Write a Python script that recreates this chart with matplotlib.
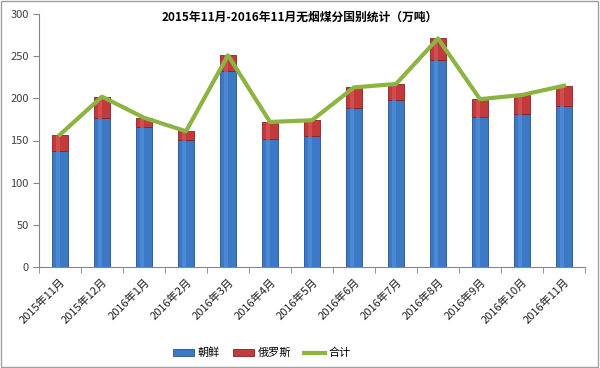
import matplotlib
matplotlib.use("Agg")
import matplotlib.pyplot as plt
import numpy as np
from matplotlib.patches import Rectangle

plt.rcParams['font.family'] = ['Noto Sans CJK SC', 'DejaVu Sans']

categories = ["2015年11月", "2015年12月", "2016年1月", "2016年2月", "2016年3月", "2016年4月",
              "2016年5月", "2016年6月", "2016年7月", "2016年8月", "2016年9月", "2016年10月", "2016年11月"]
korea = [138, 177, 166, 151, 233, 152, 155, 189, 198, 246, 178, 181, 191]
russia = [19, 25, 11, 10, 18, 20, 19, 24, 19, 25, 21, 23, 24]
total = [k + r for k, r in zip(korea, russia)]

fig = plt.figure(figsize=(6, 3.68), dpi=100)
ax = fig.add_axes([39/600, 1-267/368, 546/600, 253/368])

x = np.arange(len(categories))
w = 0.4
ax.bar(x, korea, w, color='#3b78c6', edgecolor='#24508f', linewidth=0.6, label='朝鲜', zorder=2)
ax.bar(x, russia, w, bottom=korea, color='#c23a3a', edgecolor='#8b2020', linewidth=0.6, label='俄罗斯', zorder=2)
# highlight stripes to imitate gradient
ax.bar(x - w*0.12, korea, w*0.25, color='#5a96dc', linewidth=0, zorder=2.5, alpha=0.6)
ax.bar(x - w*0.12, russia, w*0.25, bottom=korea, color='#de5a5a', linewidth=0, zorder=2.5, alpha=0.6)
ax.plot(x, total, color='#8db443', linewidth=3, label='合计', zorder=3)

ax.set_xlim(-0.5, len(categories) - 0.5)
ax.set_ylim(0, 300)
ax.set_yticks(range(0, 301, 50))
ax.tick_params(axis='y', labelsize=8, colors='#404040', length=4, direction='out')
ax.set_xticks(x)
ax.set_xticklabels(categories, rotation=45, ha='right', rotation_mode='anchor', fontsize=8, color='#202020')
ax.tick_params(axis='x', length=0, pad=7)
ax.set_xticks(np.arange(-0.5, len(categories), 1), minor=True)
ax.tick_params(axis='x', which='minor', length=4, direction='out', color='#868686')
ax.tick_params(axis='y', color='#868686')
for s in ['top', 'right']:
    ax.spines[s].set_visible(False)
for s in ['left', 'bottom']:
    ax.spines[s].set_color('#868686')

fig.text(0.5, 1-17/368, '2015年11月-2016年11月无烟煤分国别统计（万吨）', ha='center', va='center',
         fontsize=8.5, fontweight='bold')

h, l = ax.get_legend_handles_labels()
order = [l.index('朝鲜'), l.index('俄罗斯'), l.index('合计')]
leg = fig.legend([h[i] for i in order], [l[i] for i in order], loc='center',
                 bbox_to_anchor=(262/600, 1-353/368),
                 ncol=3, frameon=False, fontsize=8, handlelength=1.9, handleheight=0.5,
                 columnspacing=1.2, handletextpad=0.3)

fig.patches.append(Rectangle((0.002, 0.003), 0.995, 0.994, transform=fig.transFigure, fill=False,
                             edgecolor='#a0a0a0', linewidth=1))
fig.savefig('out.png', dpi=100)
